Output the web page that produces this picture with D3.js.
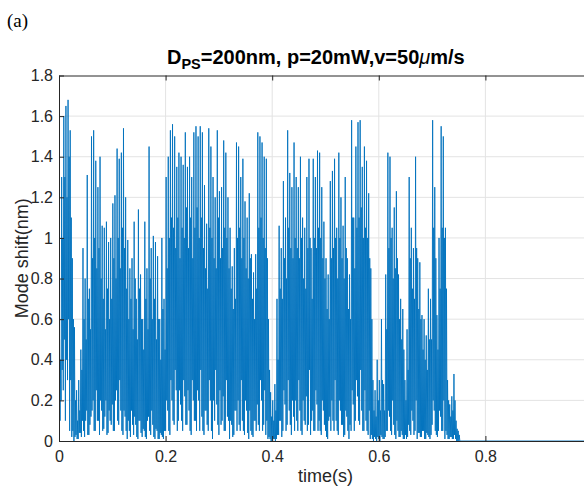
<!DOCTYPE html>
<html>
<head>
<meta charset="utf-8">
<script src="https://cdn.jsdelivr.net/npm/d3@7"></script>
<style>
  html, body { margin: 0; padding: 0; background: #fff; }
  svg { display: block; }
  .ax text { font-family: "Liberation Sans", Arial, sans-serif; font-size: 16px; fill: #262626; }
  .ax path, .ax line { stroke: #262626; }
</style>
</head>
<body>
<svg id="chart" width="584" height="487"></svg>
<script>
// ── Mode shift trace ──────────────────────────────────────────────────────
// One bin every DT seconds, four samples per bin:
// trough -> peak (tall spike) -> dip -> core (dense body) -> next trough
const DT = 0.004;

const peak = [
  0.50, 1.30, 1.60, 1.65, 1.68, 1.53, 0.90, 0.56, 0.25, 0.30,
  0.45, 0.95, 0.80, 1.31, 0.75, 1.50, 1.53, 1.38, 1.25, 1.40,
  1.06, 1.05, 1.08, 0.98, 1.00, 1.17, 1.21, 1.44, 1.39, 1.42,
  1.54, 1.20, 0.99, 0.85, 0.90, 1.08, 0.70, 1.14, 0.82, 0.60,
  1.08, 0.85, 1.45, 0.95, 1.01, 0.98, 0.91, 0.60, 1.00, 0.70,
  1.30, 1.40, 1.53, 1.56, 1.50, 1.35, 1.42, 1.40, 1.36, 1.52,
  1.35, 1.40, 1.30, 1.52, 1.55, 1.50, 1.55, 1.52, 1.26, 1.07,
  1.54, 1.45, 1.30, 1.20, 1.53, 1.23, 1.25, 1.48, 1.42, 1.20,
  1.05, 0.86, 0.95, 1.47, 1.45, 1.30, 1.39, 1.18, 1.10, 1.22,
  0.92, 0.83, 0.92, 1.52, 1.50, 1.47, 1.40, 1.39, 0.60, 0.24,
  0.20, 0.28, 0.70, 1.06, 0.95, 1.28, 1.10, 1.53, 1.32, 1.25,
  1.47, 1.30, 1.25, 1.40, 1.10, 1.05, 1.30, 1.39, 0.95, 1.39,
  1.30, 1.43, 1.42, 1.25, 1.08, 0.90, 0.82, 1.28, 1.33, 1.39,
  1.05, 1.42, 1.20, 1.06, 1.30, 0.90, 0.82, 1.58, 1.10, 1.45,
  1.57, 1.58, 1.35, 1.45, 1.38, 1.22, 0.85, 0.30, 0.25, 0.40,
  0.30, 0.60, 0.28, 0.82, 1.42, 1.40, 1.05, 1.15, 1.23, 0.82,
  0.70, 0.65, 0.30, 0.55, 1.30, 1.05, 0.95, 1.40, 0.90, 0.88,
  0.62, 0.60, 0.52, 0.75, 0.70, 1.58, 1.25, 0.62, 1.00, 1.55,
  1.50, 1.05, 0.30, 0.18, 0.22, 0.33, 0.10, 0.05
];

const core = [
  0.40, 1.00, 1.30, 1.20, 1.40, 1.10, 0.60, 0.20, 0.10, 0.15,
  0.35, 0.60, 0.50, 0.70, 0.55, 0.90, 1.00, 0.85, 0.95, 0.80,
  0.70, 0.55, 0.75, 0.60, 0.70, 0.90, 0.80, 1.00, 0.85, 1.05,
  0.95, 0.75, 0.60, 0.70, 0.55, 0.80, 0.50, 0.75, 0.60, 0.45,
  0.70, 0.55, 0.80, 0.60, 0.70, 0.50, 0.60, 0.40, 0.65, 0.45,
  0.85, 1.00, 1.10, 1.05, 0.95, 1.10, 0.90, 1.05, 1.00, 1.15,
  0.95, 1.10, 0.90, 1.05, 1.15, 1.00, 1.10, 0.95, 0.85, 0.75,
  1.05, 1.00, 0.90, 0.85, 1.10, 0.90, 0.95, 1.05, 1.00, 0.85,
  0.75, 0.65, 0.70, 1.00, 1.05, 0.90, 1.00, 0.85, 0.80, 0.90,
  0.70, 0.60, 0.75, 1.05, 1.10, 1.00, 0.95, 0.90, 0.35, 0.12,
  0.10, 0.15, 0.40, 0.75, 0.70, 0.90, 0.80, 1.05, 0.95, 0.90,
  1.00, 0.95, 0.90, 1.00, 0.80, 0.75, 0.95, 1.00, 0.70, 1.00,
  0.95, 1.05, 1.00, 0.90, 0.80, 0.65, 0.60, 0.90, 0.95, 1.00,
  0.80, 1.00, 0.90, 0.80, 0.95, 0.65, 0.60, 1.10, 0.85, 1.05,
  1.10, 1.15, 1.00, 1.05, 1.00, 0.90, 0.60, 0.15, 0.12, 0.20,
  0.15, 0.30, 0.15, 0.55, 0.95, 1.00, 0.80, 0.85, 0.90, 0.60,
  0.50, 0.45, 0.20, 0.35, 0.90, 0.75, 0.70, 0.95, 0.65, 0.60,
  0.45, 0.40, 0.35, 0.50, 0.50, 1.05, 0.90, 0.45, 0.75, 1.05,
  1.00, 0.75, 0.20, 0.12, 0.15, 0.20, 0.06, 0.03
];

const trough = [
  0.05, 0.20, 0.25, 0.10, 0.30, 0.05, 0.02, 0.00, 0.03, 0.01,
  0.04, 0.10, 0.02, 0.15, 0.03, 0.12, 0.20, 0.05, 0.10, 0.03,
  0.15, 0.06, 0.20, 0.04, 0.10, 0.18, 0.05, 0.25, 0.08, 0.15,
  0.03, 0.12, 0.01, 0.05, 0.15, 0.03, 0.08, 0.01, 0.10, 0.02,
  0.05, 0.01, 0.12, 0.03, 0.08, 0.01, 0.05, 0.01, 0.03, 0.01,
  0.05, 0.15, 0.03, 0.20, 0.08, 0.25, 0.10, 0.18, 0.05, 0.22,
  0.08, 0.15, 0.03, 0.20, 0.10, 0.25, 0.05, 0.12, 0.03, 0.15,
  0.05, 0.20, 0.01, 0.10, 0.18, 0.03, 0.08, 0.22, 0.05, 0.12,
  0.01, 0.08, 0.03, 0.15, 0.20, 0.05, 0.10, 0.03, 0.15, 0.01,
  0.05, 0.02, 0.10, 0.18, 0.05, 0.20, 0.08, 0.03, 0.01, 0.01,
  0.00, 0.01, 0.01, 0.03, 0.10, 0.05, 0.18, 0.08, 0.15, 0.03,
  0.12, 0.20, 0.05, 0.15, 0.03, 0.10, 0.22, 0.08, 0.03, 0.15,
  0.05, 0.18, 0.10, 0.03, 0.15, 0.05, 0.01, 0.12, 0.20, 0.05,
  0.10, 0.03, 0.15, 0.08, 0.03, 0.12, 0.01, 0.05, 0.18, 0.10,
  0.22, 0.08, 0.15, 0.05, 0.10, 0.03, 0.01, 0.01, 0.02, 0.00,
  0.01, 0.03, 0.01, 0.02, 0.05, 0.12, 0.03, 0.08, 0.01, 0.05,
  0.02, 0.03, 0.01, 0.01, 0.08, 0.03, 0.10, 0.05, 0.01, 0.04,
  0.02, 0.05, 0.01, 0.03, 0.01, 0.08, 0.15, 0.03, 0.05, 0.12,
  0.05, 0.01, 0.03, 0.01, 0.02, 0.01, 0.01, 0.00
];

const dip = [
  0.10, 0.35, 0.50, 0.40, 0.60, 0.30, 0.05, 0.02, 0.01, 0.04,
  0.02, 0.05, 0.10, 0.03, 0.08, 0.15, 0.05, 0.25, 0.10, 0.20,
  0.05, 0.12, 0.03, 0.15, 0.08, 0.05, 0.20, 0.10, 0.30, 0.05,
  0.15, 0.05, 0.10, 0.02, 0.08, 0.12, 0.02, 0.10, 0.04, 0.06,
  0.02, 0.10, 0.05, 0.15, 0.02, 0.06, 0.01, 0.04, 0.02, 0.05,
  0.20, 0.05, 0.30, 0.10, 0.35, 0.05, 0.25, 0.10, 0.30, 0.08,
  0.25, 0.05, 0.30, 0.10, 0.05, 0.20, 0.35, 0.05, 0.15, 0.08,
  0.30, 0.05, 0.20, 0.35, 0.08, 0.25, 0.10, 0.05, 0.30, 0.10,
  0.10, 0.02, 0.15, 0.05, 0.08, 0.30, 0.05, 0.20, 0.04, 0.15,
  0.03, 0.10, 0.05, 0.08, 0.30, 0.05, 0.25, 0.10, 0.02, 0.00,
  0.01, 0.00, 0.03, 0.10, 0.02, 0.25, 0.05, 0.30, 0.08, 0.20,
  0.05, 0.10, 0.30, 0.05, 0.20, 0.08, 0.05, 0.35, 0.10, 0.05,
  0.25, 0.05, 0.05, 0.20, 0.08, 0.02, 0.10, 0.05, 0.10, 0.30,
  0.05, 0.20, 0.08, 0.02, 0.15, 0.05, 0.08, 0.25, 0.05, 0.30,
  0.10, 0.35, 0.05, 0.25, 0.05, 0.15, 0.03, 0.00, 0.01, 0.02,
  0.00, 0.02, 0.01, 0.05, 0.15, 0.05, 0.20, 0.03, 0.10, 0.02,
  0.05, 0.01, 0.03, 0.02, 0.05, 0.15, 0.03, 0.20, 0.04, 0.02,
  0.05, 0.01, 0.04, 0.02, 0.03, 0.20, 0.05, 0.02, 0.15, 0.05,
  0.20, 0.05, 0.01, 0.02, 0.01, 0.03, 0.00, 0.00
];

// flat tail after the particle leaves
const tailTime  = [0.752, 1.0];
const tailShift = [0, 0];

const xTicks = [0, 0.2, 0.4, 0.6, 0.8, 1];
const yTicks = [0, 0.2, 0.4, 0.6, 0.8, 1, 1.2, 1.4, 1.6, 1.8];

// ── Layout ────────────────────────────────────────────────────────────────
const L = 59, R = 592, T = 75.5, B = 441;
const svg = d3.select('#chart');
const x = d3.scaleLinear().domain([0, 1]).range([L, R]);
const y = d3.scaleLinear().domain([0, 1.8]).range([B, T]);

svg.append('defs').append('clipPath').attr('id', 'plot')
  .append('rect').attr('x', L).attr('y', T).attr('width', R - L).attr('height', B - T);

// grid
const grid = svg.append('g').attr('stroke', '#e3e3e3').attr('stroke-width', 1);
xTicks.slice(1).forEach(v => grid.append('line')
  .attr('x1', x(v)).attr('x2', x(v)).attr('y1', T).attr('y2', B));
yTicks.slice(1, -1).forEach(v => grid.append('line')
  .attr('x1', L).attr('x2', R).attr('y1', y(v)).attr('y2', y(v)));

// trace
const pts = [];
peak.forEach((p, i) => {
  pts.push([i * DT, trough[i]]);
  pts.push([(i + 0.25) * DT, p]);
  pts.push([(i + 0.5) * DT, dip[i]]);
  pts.push([(i + 0.75) * DT, core[i]]);
});
tailTime.forEach((t, i) => pts.push([t, tailShift[i]]));

svg.append('path').datum(pts)
  .attr('clip-path', 'url(#plot)')
  .attr('fill', 'none').attr('stroke', '#0072BD').attr('stroke-width', 0.9)
  .attr('stroke-linejoin', 'miter')
  .attr('d', d3.line().x(d => x(d[0])).y(d => y(d[1])));

// axes, MATLAB style: inward ticks, box on top
const num = d3.format('');
const xFmt = d => d === 1 ? '' : num(d);   // the 1 label falls outside the crop
svg.append('g').attr('class', 'ax').attr('transform', `translate(0,${B})`)
  .call(d3.axisBottom(x).tickValues(xTicks).tickFormat(xFmt).tickSizeInner(-5).tickSizeOuter(0).tickPadding(10));
svg.append('g').attr('class', 'ax').attr('transform', `translate(0,${T})`)
  .call(d3.axisTop(x).tickValues(xTicks).tickFormat('').tickSizeInner(-5).tickSizeOuter(0));
svg.append('g').attr('class', 'ax').attr('transform', `translate(${L},0)`)
  .call(d3.axisLeft(y).tickValues(yTicks).tickFormat(num).tickSizeInner(-5).tickSizeOuter(0).tickPadding(6));

// labels
const sans = '"Liberation Sans", Arial, sans-serif';
svg.append('text').attr('x', (L + R) / 2).attr('y', 482)
  .attr('text-anchor', 'middle').attr('font-family', sans).attr('font-size', 18).attr('fill', '#262626')
  .text('time(s)');
svg.append('text').attr('transform', `translate(28,${(T + B) / 2}) rotate(-90)`)
  .attr('text-anchor', 'middle').attr('font-family', sans).attr('font-size', 18).attr('fill', '#262626')
  .text('Mode shift(nm)');

const title = svg.append('text').attr('x', 167).attr('y', 64)
  .attr('font-family', sans).attr('font-size', 20).attr('font-weight', 'bold').attr('fill', '#000');
title.append('tspan').text('D');
title.append('tspan').attr('dy', 5).attr('font-size', 14.5).text('PS');
title.append('tspan').attr('dy', -5).text('=200nm, p=20mW,v=50');
title.append('tspan').attr('font-style', 'italic').attr('font-weight', 'normal').text('\u03bc');
title.append('tspan').text('m/s');

svg.append('text').attr('x', 7).attr('y', 27)
  .attr('font-family', '"Liberation Serif", "Times New Roman", serif').attr('font-size', 19).attr('fill', '#000')
  .text('(a)');
</script>
</body>
</html>
